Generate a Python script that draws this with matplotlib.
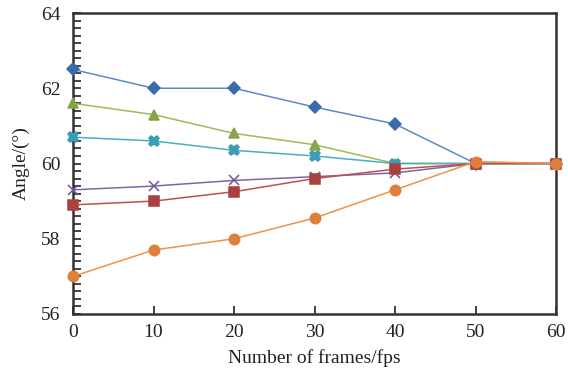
import matplotlib
matplotlib.use("Agg")
import matplotlib.pyplot as plt
from matplotlib.ticker import MultipleLocator

plt.rcParams["font.family"] = ["Liberation Serif", "DejaVu Serif"]

FRAMES = [0, 10, 20, 30, 40, 50, 60]

SERIES = [
    [62.5, 62.0, 62.0, 61.5, 61.05, 60.0, 60.0],   # blue diamond
    [61.6, 61.3, 60.8, 60.5, 60.0, 60.0, 60.0],    # green triangle
    [60.7, 60.6, 60.35, 60.2, 60.0, 60.0, 60.0],   # cyan star
    [59.3, 59.4, 59.55, 59.65, 59.75, 60.0, 60.0], # purple x
    [58.9, 59.0, 59.25, 59.6, 59.85, 60.0, 60.0],  # red square
    [57.0, 57.7, 58.0, 58.55, 59.3, 60.05, 60.0],  # orange circle
]

LINE_COLORS = ["#5A8AC6", "#9BBB59", "#4BACC6", "#8064A2", "#C0504D", "#F0914A"]
MARKER_COLORS = ["#3A6BA8", "#85A548", "#3A9CB5", "#6E5592", "#A8413F", "#E07F3A"]
MARKERS = ["D", "^", "X", "x", "s", "o"]
SIZES = [6.5, 7.5, 7.5, 7, 7, 7.5]

fig = plt.figure(figsize=(5.68, 3.78), dpi=100)
ax = fig.add_axes([73 / 568, 1 - 314 / 378, (556 - 73) / 568, (314 - 13) / 378])

for vals, lc, mc, m, s in zip(SERIES, LINE_COLORS, MARKER_COLORS, MARKERS, SIZES):
    ax.plot(FRAMES, vals, color=lc, linewidth=1.1, marker=m, markersize=s,
            markerfacecolor=mc, markeredgecolor=mc, markeredgewidth=1.1,
            clip_on=False, zorder=3)

ax.set_xlim(0, 60)
ax.set_ylim(56, 64)
ax.xaxis.set_major_locator(MultipleLocator(10))
ax.yaxis.set_major_locator(MultipleLocator(2))
ax.yaxis.set_minor_locator(MultipleLocator(0.2))

ax.tick_params(axis="both", which="both", direction="in", labelsize=14,
               width=1.2, colors="#222222")
ax.tick_params(axis="y", which="both", length=6, pad=9)
ax.tick_params(axis="x", which="major", length=6, pad=7)
ax.tick_params(axis="x", which="minor", bottom=False)

for sp in ax.spines.values():
    sp.set_linewidth(1.8)
    sp.set_color("#333333")

ax.set_xlabel("Number of frames/fps", fontsize=14, labelpad=6, color="#222222")
ax.set_ylabel("Angle/(°)", fontsize=14, labelpad=8, color="#222222")

fig.savefig("out.png", dpi=100)
plt.close(fig)
